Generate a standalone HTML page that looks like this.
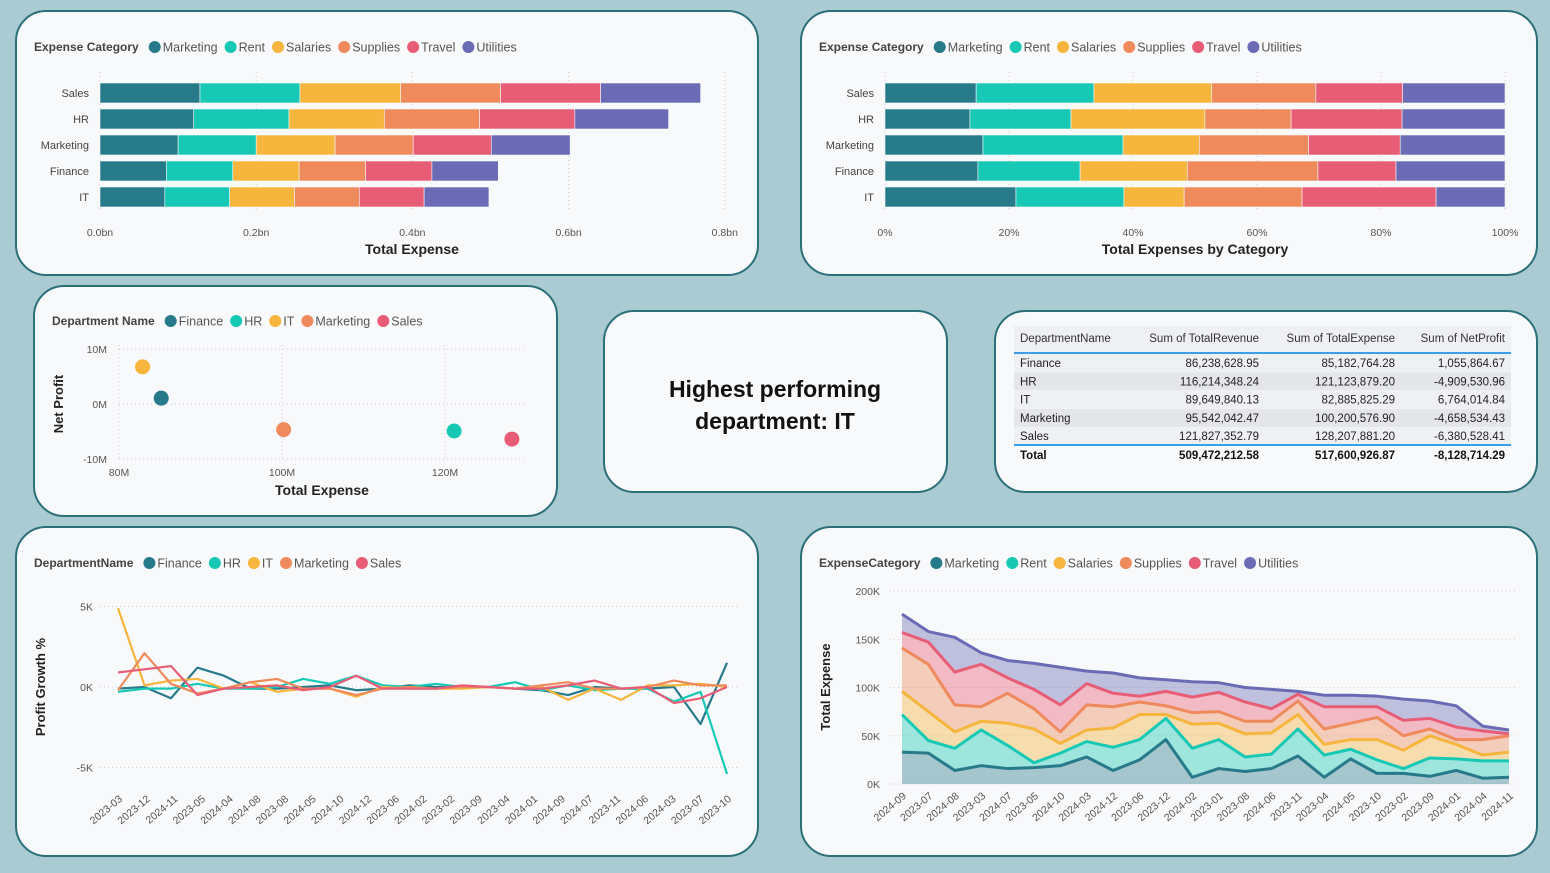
<!DOCTYPE html>
<html><head><meta charset="utf-8"><style>
html,body{margin:0;padding:0;background:#a9cbd1;}
body{width:1550px;height:868px;overflow:hidden;font-family:"Liberation Sans",sans-serif;}
svg text{font-family:"Liberation Sans",sans-serif;}
</style></head><body>
<svg id="s" width="1550" height="868" xmlns="http://www.w3.org/2000/svg">
<rect x="0" y="0" width="1550" height="868" fill="#a9cbd1"/>
<rect x="16" y="11" width="742" height="264" rx="30" fill="#f8f9fb" stroke="#2b6f79" stroke-width="2"/>
<rect x="801" y="11" width="736" height="264" rx="30" fill="#f8f9fb" stroke="#2b6f79" stroke-width="2"/>
<rect x="34" y="286" width="523" height="230" rx="30" fill="#f8f9fb" stroke="#2b6f79" stroke-width="2"/>
<rect x="604" y="311" width="343" height="181" rx="30" fill="#f8f9fb" stroke="#2b6f79" stroke-width="2"/>
<rect x="995" y="311" width="542" height="181" rx="30" fill="#f8f9fb" stroke="#2b6f79" stroke-width="2"/>
<rect x="16" y="527" width="742" height="329" rx="30" fill="#f8f9fb" stroke="#2b6f79" stroke-width="2"/>
<rect x="801" y="527" width="736" height="329" rx="30" fill="#f8f9fb" stroke="#2b6f79" stroke-width="2"/>
<text x="775" y="397" text-anchor="middle" font-size="23" font-weight="bold" fill="#111">Highest performing</text>
<text x="775" y="429" text-anchor="middle" font-size="23" font-weight="bold" fill="#111">department: IT</text>
<g id="g"></g>
</svg>
<script>
const catNames=["Marketing","Rent","Salaries","Supplies","Travel","Utilities"];
const deptNames=["Finance","HR","IT","Marketing","Sales"];
const colors=["#277a8a","#17c9b5","#f6b53d","#ee8a5b","#e85d76","#6a6bb4"];
// Chart 1: total expense (bn) by department & category
const barDepts=["Sales","HR","Marketing","Finance","IT"];
const barMarketing=[0.128,0.120,0.100,0.085,0.083];
const barRent=[0.128,0.122,0.100,0.085,0.083];
const barSalaries=[0.129,0.122,0.101,0.085,0.083];
const barSupplies=[0.128,0.122,0.100,0.085,0.083];
const barTravel=[0.128,0.122,0.100,0.085,0.083];
const barUtilities=[0.128,0.120,0.101,0.085,0.083];
const barTicks=["0.0bn","0.2bn","0.4bn","0.6bn","0.8bn"];
const barTickVals=[0,0.2,0.4,0.6,0.8];
// Chart 2: percent shares
const pctMarketing=[14.7,13.7,15.8,15.0,21.1];
const pctRent=[19.0,16.3,22.6,16.5,17.4];
const pctSalaries=[19.0,21.6,12.3,17.3,9.7];
const pctSupplies=[16.8,13.9,17.6,21.1,19.0];
const pctTravel=[14.0,17.9,14.8,12.6,21.6];
const pctUtilities=[16.5,16.6,16.9,17.6,11.1];
const pctTicks=["0%","20%","40%","60%","80%","100%"];
const pctTickVals=[0,20,40,60,80,100];
// Scatter
const scExpense=[85.18,121.12,82.89,100.20,128.21];
const scProfit=[1.06,-4.91,6.76,-4.66,-6.38];
const scXTicks=["80M","100M","120M"];const scXVals=[80,100,120];
const scYTicks=["10M","0M","-10M"];const scYVals=[10,0,-10];
// Table
const tRev=["86,238,628.95","116,214,348.24","89,649,840.13","95,542,042.47","121,827,352.79"];
const tExp=["85,182,764.28","121,123,879.20","82,885,825.29","100,200,576.90","128,207,881.20"];
const tProf=["1,055,864.67","-4,909,530.96","6,764,014.84","-4,658,534.43","-6,380,528.41"];
const tTotal=["509,472,212.58","517,600,926.87","-8,128,714.29"];
// Line chart (K)
const lnFinance=[-0.1,0,-0.7,1.2,0.7,-0.1,-0.1,0,0.1,-0.2,-0.1,0.1,0,0,0,-0.1,-0.2,-0.5,0,-0.1,-0.1,0,-2.3,1.5];
const lnHR=[-0.3,-0.1,-0.1,0.2,-0.1,-0.1,0,0.5,0.2,0.7,0.1,0,0.2,0,0,0.3,-0.2,0.1,-0.2,-0.1,-0.1,-0.9,-0.3,-5.4];
const lnIT=[4.9,0.1,0.4,0.5,-0.1,0.3,-0.3,-0.1,-0.1,-0.6,0,-0.1,-0.1,-0.1,0,-0.1,0,-0.8,-0.1,-0.8,0.1,0.1,0.2,0];
const lnMarketing=[-0.2,2.1,0.2,-0.4,-0.1,0.3,0.5,-0.1,-0.1,-0.5,-0.1,0,-0.1,0,0,-0.1,0.1,0.3,-0.1,-0.1,0,0.4,0.1,0.1];
const lnSales=[0.9,1.1,1.3,-0.5,-0.1,0,0.1,-0.2,0,0.7,-0.1,-0.1,-0.1,0.1,0,-0.1,-0.1,0.1,0.4,-0.1,0,-1,-0.7,0];
const lineXLabels=["2023-03","2023-12","2024-11","2023-05","2024-04","2024-08","2023-08","2024-05","2024-10","2024-12","2023-06","2024-02","2023-02","2023-09","2023-04","2024-01","2024-09","2024-07","2023-11","2024-06","2024-03","2023-07","2023-10"];
const lineYTicks=["5K","0K","-5K"];const lineYVals=[5,0,-5];
// Area chart (K)
const areaDates=["2024-09","2023-07","2024-08","2023-03","2024-07","2023-05","2024-10","2024-03","2024-12","2023-06","2023-12","2024-02","2023-01","2023-08","2024-06","2023-11","2023-04","2024-05","2023-10","2023-02","2023-09","2024-01","2024-04","2024-11"];
const arMarketing=[33,32,14,19,16,17,19,28,14,25,46,7,16,13,16,29,7,26,11,11,8,14,6,7];
const arRent=[39,13,23,37,24,5,13,16,24,21,22,30,30,15,15,28,23,10,14,5,19,12,18,17];
const arSalaries=[24,30,17,9,23,35,10,12,20,26,4,25,17,24,22,15,11,10,21,19,23,15,6,9];
const arSupplies=[45,49,28,15,31,21,12,26,22,13,9,12,12,13,12,14,16,17,23,15,7,5,16,17];
const arTravel=[16,23,34,44,16,20,28,22,14,6,15,16,20,20,13,7,23,17,11,16,11,13,9,2];
const arUtilities=[19,11,36,12,18,27,39,13,21,19,12,16,10,15,20,3,12,12,11,22,18,22,5,4];
const areaYTicks=["0K","50K","100K","150K","200K"];const areaYVals=[0,50,100,150,200];

const NS="http://www.w3.org/2000/svg";const G=document.getElementById('g');
function el(tag,attrs,txt){const e=document.createElementNS(NS,tag);for(const k in attrs)e.setAttribute(k,attrs[k]);if(txt!==undefined)e.textContent=txt;G.appendChild(e);return e;}
function text(x,y,t,size,fill,anchor,weight,name){const e=el('text',{x:x,y:y,'font-size':size,fill:fill,'text-anchor':anchor||'start','font-weight':weight||'normal'},t);

return e;}
function legend(x,y,title,names,cols,name){
 const t=text(x,y+4,title,12,'#444','start','bold',name+'-title');
 let cx=x+t.getComputedTextLength()+10;
 names.forEach((n,i)=>{const c=el('circle',{cx:cx+6,cy:y,r:6,fill:cols[i]});
  
  
  const tt=text(cx+14,y+4.5,n,12.5,'#555','start','normal',name+'-entry');
  
  cx+=14+tt.getComputedTextLength()+7;});
}
// Chart 1
legend(34,47,"Expense Category",catNames,colors,'legend-bar');
const b1x=v=>100+v*781;const rowY=i=>83+i*26;
barTickVals.forEach((v,i)=>{const l=el('line',{x1:b1x(v),x2:b1x(v),y1:72,y2:212,stroke:'#ccc','stroke-dasharray':'1,3'});
 text(b1x(v),236,barTicks[i],10.5,'#555','middle','normal','x-tick-label');});
const barSeries=[barMarketing,barRent,barSalaries,barSupplies,barTravel,barUtilities];
barDepts.forEach((d,i)=>{text(89,rowY(i)+14,d,11,'#444','end','normal','y-category-label');let acc=0;
 barSeries.forEach((s,k)=>{const r=el('rect',{x:b1x(acc),y:rowY(i),width:b1x(acc+s[i])-b1x(acc),height:20,fill:colors[k],stroke:'#f8f9fb','stroke-width':0.6});
 acc+=s[i];});});
text(412,254,"Total Expense",14,'#222','middle','bold','x-axis-title');
// Chart 2
legend(819,47,"Expense Category",catNames,colors,'legend-pct');
const b2x=v=>885+v*6.2;
pctTickVals.forEach((v,i)=>{const l=el('line',{x1:b2x(v),x2:b2x(v),y1:72,y2:212,stroke:'#ccc','stroke-dasharray':'1,3'});
 text(b2x(v),236,pctTicks[i],10.5,'#555','middle','normal','x-tick-label');});
const pctSeries=[pctMarketing,pctRent,pctSalaries,pctSupplies,pctTravel,pctUtilities];
barDepts.forEach((d,i)=>{text(874,rowY(i)+14,d,11,'#444','end','normal','y-category-label');let tot=pctSeries.reduce((a,s)=>a+s[i],0);let acc=0;
 pctSeries.forEach((s,k)=>{const v=s[i]*100/tot;const r=el('rect',{x:b2x(acc),y:rowY(i),width:b2x(acc+v)-b2x(acc),height:20,fill:colors[k],stroke:'#f8f9fb','stroke-width':0.6});
 acc+=v;});});
text(1195,254,"Total Expenses by Category",14,'#222','middle','bold','x-axis-title');
// Scatter
legend(52,321,"Department Name",deptNames,colors,'legend-scatter');
const sx=v=>119+(v-80)*8.15, sy=v=>404-v*5.5;
scYVals.forEach((v,i)=>{const l=el('line',{x1:119,x2:525,y1:sy(v),y2:sy(v),stroke:'#ccc','stroke-dasharray':'1,3'});
 text(107,sy(v)+4,scYTicks[i],10.5,'#555','end','normal','y-tick-label');});
scXVals.forEach((v,i)=>{const l=el('line',{x1:sx(v),x2:sx(v),y1:345,y2:460,stroke:'#ccc','stroke-dasharray':'1,3'});
 text(sx(v),476,scXTicks[i],10.5,'#555','middle','normal','x-tick-label');});
deptNames.forEach((d,i)=>{const c=el('circle',{cx:sx(scExpense[i]),cy:sy(scProfit[i]),r:7.5,fill:colors[i]});});
text(322,495,"Total Expense",14,'#222','middle','bold','x-axis-title');
const yt=text(0,0,"Net Profit",13,'#222','middle','bold','y-axis-title');yt.setAttribute('transform','translate(63,404) rotate(-90)');
// Table
const hdr=el('rect',{x:1014,y:326,width:497,height:26,fill:'#eef0f3'});
const colR=[1259,1395,1505];
text(1020,342,"DepartmentName",11.5,'#333','start','normal','table-header-cell');
["Sum of TotalRevenue","Sum of TotalExpense","Sum of NetProfit"].forEach((h,i)=>text(colR[i],342,h,11.5,'#333','end','normal','table-header-cell'));
const ln=el('line',{x1:1014,x2:1511,y1:353,y2:353,stroke:'#3aa0e8','stroke-width':2});
deptNames.forEach((d,i)=>{const y=354+i*18.3;const r=el('rect',{x:1014,y:y,width:497,height:18,fill:i%2?'#e4e6ea':'#eef0f3'});
 text(1020,y+13,d,11.5,'#222','start','normal','table-cell');
 [tRev,tExp,tProf].forEach((a,k)=>text(colR[k],y+13,a[i],11.5,'#222','end','normal','table-cell'));});
const ln2=el('line',{x1:1014,x2:1511,y1:445,y2:445,stroke:'#3aa0e8','stroke-width':2});
text(1020,459,"Total",11.5,'#111','start','bold','table-total-cell');
tTotal.forEach((t,k)=>text(colR[k],459,t,11.5,'#111','end','bold','table-total-cell'));
// Line chart
legend(34,563,"DepartmentName",deptNames,colors,'legend-line');
const lx=i=>118+i*(727-118)/23, ly=v=>687-v*16.1;
const lxl=i=>118+i*(727-118)/22;
lineYVals.forEach((v,i)=>{const l=el('line',{x1:100,x2:737,y1:ly(v),y2:ly(v),stroke:'#ccc','stroke-dasharray':'1,3'});
 text(93,ly(v)+4,lineYTicks[i],10.5,'#555','end','normal','y-tick-label');});
lineXLabels.forEach((d,i)=>{const t=text(0,0,d,10.5,'#555','end','normal','x-tick-label');t.setAttribute('transform',`translate(${lxl(i)+5},${800}) rotate(-40)`);});
[lnFinance,lnHR,lnIT,lnMarketing,lnSales].forEach((s,k)=>{const p=el('polyline',{points:s.map((v,i)=>lx(i)+','+ly(v)).join(' '),fill:'none',stroke:colors[k],'stroke-width':2.2,'stroke-linejoin':'round'});
 });
const yt2=text(0,0,"Profit Growth %",13,'#222','middle','bold','y-axis-title');yt2.setAttribute('transform','translate(45,687) rotate(-90)');
// Area chart
legend(819,563,"ExpenseCategory",catNames,colors,'legend-area');
const ax=i=>902+i*(1509-902)/23, ay=v=>784-v*0.965;
areaYVals.forEach((v,i)=>{const l=el('line',{x1:890,x2:1515,y1:ay(v),y2:ay(v),stroke:'#ccc','stroke-dasharray':'1,3'});
 text(880,ay(v)+4,areaYTicks[i],10.5,'#555','end','normal','y-tick-label');});
areaDates.forEach((d,i)=>{const t=text(0,0,d,10.5,'#555','end','normal','x-tick-label');t.setAttribute('transform',`translate(${ax(i)+5},${797}) rotate(-40)`);});
const arSeries=[arMarketing,arRent,arSalaries,arSupplies,arTravel,arUtilities];
let base=areaDates.map(()=>0);const tops=[];
arSeries.forEach((s,k)=>{const top=base.map((b,i)=>b+s[i]);tops.push(top);
 const pts=top.map((v,i)=>ax(i)+','+ay(v)).concat(base.map((v,i)=>ax(i)+','+ay(v)).reverse()).join(' ');
 const pg=el('polygon',{points:pts,fill:colors[k],'fill-opacity':0.4});
 base=top;});
tops.forEach((top,k)=>{const p=el('polyline',{points:top.map((v,i)=>ax(i)+','+ay(v)).join(' '),fill:'none',stroke:colors[k],'stroke-width':3,'stroke-linejoin':'round'});
 });
const yt3=text(0,0,"Total Expense",13,'#222','middle','bold','y-axis-title');yt3.setAttribute('transform','translate(830,687) rotate(-90)');
</script>
</body></html>
